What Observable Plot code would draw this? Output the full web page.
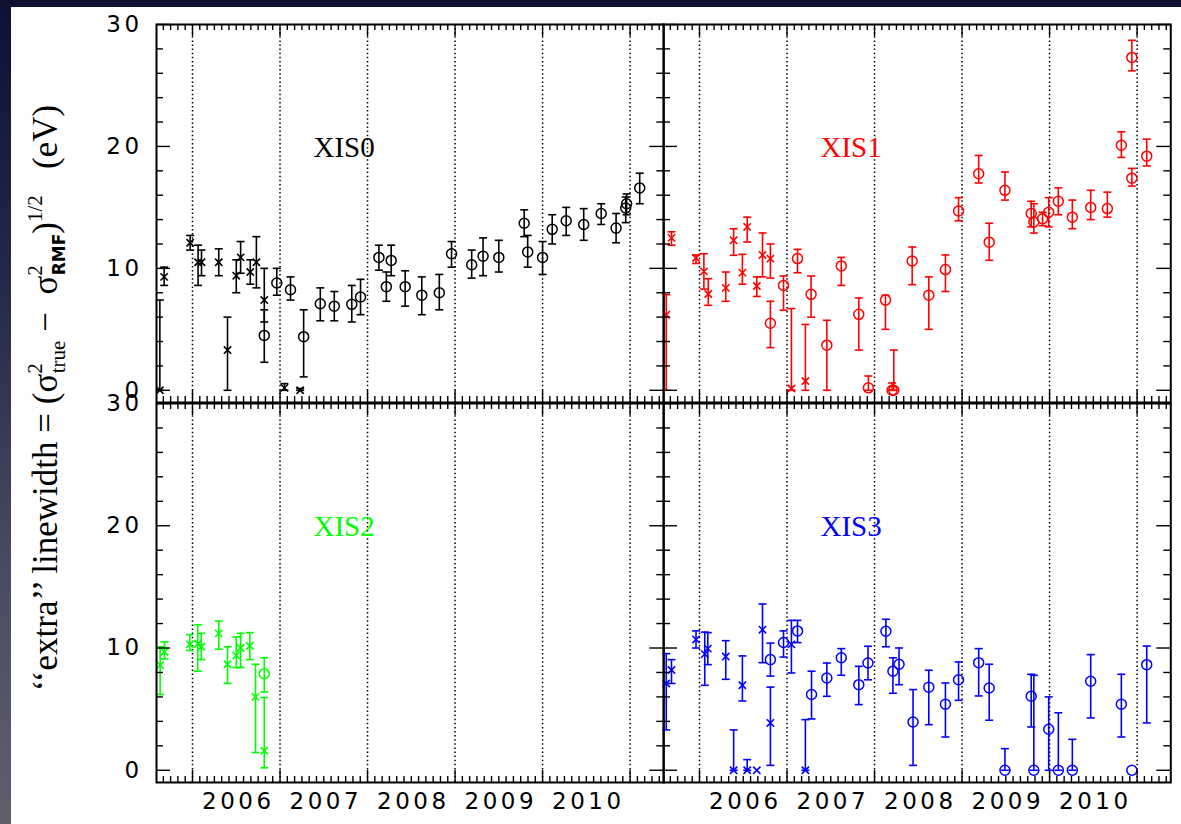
<!DOCTYPE html>
<html><head><meta charset="utf-8">
<script src="https://cdn.jsdelivr.net/npm/d3@7"></script>
<script src="https://cdn.jsdelivr.net/npm/@observablehq/plot@0.6"></script>
<style>
html,body{margin:0;padding:0;}
body{width:1181px;height:824px;overflow:hidden;position:relative;background:linear-gradient(180deg,#0d1132 0%,#252a4a 35%,#4a4c62 70%,#605f6e 100%);}
#sheet{position:absolute;left:11px;top:7px;right:0;bottom:0;background:#fff;}
#chart{position:absolute;left:0;top:0;width:1181px;height:824px;}
#chart svg{position:absolute;}
#ylab{position:absolute;left:0;top:0;overflow:visible;}
</style></head>
<body><div id="sheet"></div>
<svg id="ylab" width="100" height="824">
<text transform="translate(57,398) rotate(-90)" text-anchor="middle" font-family="Liberation Serif" font-size="35" fill="#000"><tspan>‘‘extra’’ linewidth = (σ</tspan><tspan font-size="21" dy="-15">2</tspan><tspan font-size="21" dx="-10" dy="23">true</tspan><tspan dy="-8">&#160;−&#160; σ</tspan><tspan font-size="21" dy="-15">2</tspan><tspan font-size="17" font-family="DejaVu Sans" font-weight="bold" dx="-10" dy="23">RMF</tspan><tspan dy="-8">)</tspan><tspan font-size="21" dy="-15">1/2</tspan><tspan dy="15">&#160;&#160;&#160;(eV)</tspan></text>
</svg>
<div id="chart"></div>
<script>
// ---- data: [time (yr), value (eV), lower, upper, marker] ----
const yearTicks = [2006, 2007, 2008, 2009, 2010, 2011];
const yearLabels = ["2006", "2007", "2008", "2009", "2010"];
const yTickLabels = [0, 10, 20, 30];

const XIS0 = [
  [2005.627, 0, 0, 7.4, "x"],
  [2005.676, 9.3, 8.6, 10.1, "x"],
  [2005.973, 12.1, 11.5, 12.7, "x"],
  [2006.064, 10.5, 8.6, 11.9, "x"],
  [2006.103, 10.5, 9.4, 11.5, "x"],
  [2006.30, 10.5, 9.4, 11.6, "x"],
  [2006.40, 3.3, 0, 6.0, "x"],
  [2006.50, 9.4, 8.0, 10.7, "x"],
  [2006.55, 10.9, 9.6, 12.2, "x"],
  [2006.66, 9.7, 8.7, 10.7, "x"],
  [2006.73, 10.5, 8.4, 12.6, "x"],
  [2006.82, 7.4, 5.6, 10.0, "x"],
  [2006.82, 4.5, 2.3, 6.6, "o"],
  [2006.963, 8.8, 7.8, 10.0, "o"],
  [2007.05, 0.2, 0, 0.55, "x"],
  [2007.12, 8.25, 7.4, 9.3, "o"],
  [2007.23, 0, 0, 0.15, "x"],
  [2007.27, 4.4, 1.1, 6.6, "o"],
  [2007.46, 7.1, 5.7, 8.4, "o"],
  [2007.62, 6.9, 5.7, 8.1, "o"],
  [2007.82, 7.05, 5.6, 8.6, "o"],
  [2007.92, 7.65, 6.2, 9.1, "o"],
  [2008.13, 10.9, 9.85, 11.9, "o"],
  [2008.215, 8.5, 7.3, 9.7, "o"],
  [2008.27, 10.65, 9.4, 11.9, "o"],
  [2008.43, 8.5, 6.9, 9.8, "o"],
  [2008.62, 7.8, 6.2, 9.3, "o"],
  [2008.82, 8.0, 6.6, 9.5, "o"],
  [2008.96, 11.2, 10.1, 12.2, "o"],
  [2009.19, 10.3, 9.2, 11.5, "o"],
  [2009.32, 11.0, 9.4, 12.5, "o"],
  [2009.50, 10.9, 9.7, 12.3, "o"],
  [2009.79, 13.7, 12.6, 14.8, "o"],
  [2009.83, 11.35, 10.1, 12.7, "o"],
  [2010.0, 10.9, 9.5, 12.2, "o"],
  [2010.11, 13.2, 12.0, 14.4, "o"],
  [2010.27, 13.9, 12.7, 15.0, "o"],
  [2010.47, 13.6, 12.3, 14.9, "o"],
  [2010.67, 14.5, 13.6, 15.3, "o"],
  [2010.84, 13.3, 12.1, 14.5, "o"],
  [2010.95, 14.95, 13.75, 15.85, "o"],
  [2010.96, 15.3, 14.4, 16.1, "o"],
  [2011.11, 16.6, 15.3, 17.8, "o"]
];

const XIS1 = [
  [2005.62, 6.2, 0, 7.84, "x"],
  [2005.68, 12.5, 11.9, 13.0, "x"],
  [2005.96, 10.85, 10.4, 11.1, "x"],
  [2006.05, 9.75, 8.3, 11.2, "x"],
  [2006.10, 7.9, 6.97, 9.15, "x"],
  [2006.30, 8.4, 7.3, 9.7, "x"],
  [2006.39, 12.3, 11.07, 13.25, "x"],
  [2006.49, 9.65, 8.7, 11.15, "x"],
  [2006.545, 13.4, 12.16, 14.2, "x"],
  [2006.655, 8.55, 7.7, 9.3, "x"],
  [2006.72, 11.1, 9.3, 12.9, "x"],
  [2006.81, 10.8, 9.2, 12.0, "x"],
  [2006.81, 5.5, 3.5, 7.3, "o"],
  [2006.96, 8.6, 6.56, 9.37, "o"],
  [2007.05, 0.15, 0, 6.7, "x"],
  [2007.12, 10.8, 9.64, 11.56, "o"],
  [2007.21, 0.76, 0, 5.4, "x"],
  [2007.275, 7.87, 6.0, 9.37, "o"],
  [2007.455, 3.7, 0, 5.74, "o"],
  [2007.62, 10.2, 8.6, 10.9, "o"],
  [2007.82, 6.23, 3.3, 7.57, "o"],
  [2007.93, 0.2, 0, 1.17, "o"],
  [2008.125, 7.4, 5.0, 7.8, "o"],
  [2008.20, 0, 0, 0.6, "o"],
  [2008.22, 0, 0, 3.3, "o"],
  [2008.43, 10.6, 8.66, 11.75, "o"],
  [2008.62, 7.8, 5.0, 9.3, "o"],
  [2008.81, 9.9, 8.1, 11.1, "o"],
  [2008.96, 14.7, 13.9, 15.8, "o"],
  [2009.19, 17.76, 17.0, 19.26, "o"],
  [2009.31, 12.15, 10.66, 13.7, "o"],
  [2009.49, 16.4, 15.6, 17.9, "o"],
  [2009.79, 14.5, 13.4, 15.5, "o"],
  [2009.82, 13.8, 12.9, 15.3, "o"],
  [2009.92, 14.07, 13.5, 14.6, "o"],
  [2009.99, 14.6, 13.4, 15.8, "o"],
  [2010.10, 15.5, 14.4, 16.6, "o"],
  [2010.26, 14.2, 13.25, 15.6, "o"],
  [2010.47, 15.0, 14.0, 16.4, "o"],
  [2010.66, 14.9, 14.2, 16.25, "o"],
  [2010.82, 20.1, 19.1, 21.2, "o"],
  [2010.94, 27.3, 26.2, 28.7, "o"],
  [2010.94, 17.4, 16.75, 18.2, "o"],
  [2011.11, 19.2, 18.4, 20.6, "o"]
];

const XIS2 = [
  [2005.63, 8.6, 6.2, 10.1, "x"],
  [2005.68, 9.7, 9.1, 10.5, "x"],
  [2005.97, 10.3, 9.8, 11.1, "x"],
  [2006.06, 10.35, 8.1, 11.9, "x"],
  [2006.10, 10.1, 9.05, 11.2, "x"],
  [2006.30, 11.2, 9.9, 12.2, "x"],
  [2006.40, 8.67, 7.1, 10.1, "x"],
  [2006.50, 9.4, 8.4, 10.9, "x"],
  [2006.55, 10.0, 8.4, 11.2, "x"],
  [2006.655, 10.17, 9.05, 11.26, "x"],
  [2006.72, 6.0, 1.45, 8.67, "x"],
  [2006.82, 7.9, 6.4, 9.2, "o"],
  [2006.82, 1.6, 0.2, 5.95, "x"]
];

const XIS3 = [
  [2005.62, 7.1, 3.3, 9.54, "x"],
  [2005.68, 8.2, 7.1, 9.05, "x"],
  [2005.96, 10.7, 10.0, 11.4, "x"],
  [2006.06, 9.5, 6.95, 11.3, "x"],
  [2006.095, 9.95, 8.64, 11.26, "x"],
  [2006.30, 9.3, 7.44, 10.6, "x"],
  [2006.39, 0, 0, 3.3, "x"],
  [2006.49, 6.95, 5.67, 9.35, "x"],
  [2006.545, 0, 0, 0.87, "x"],
  [2006.655, 0, 0, 0, "x"],
  [2006.72, 11.5, 8.8, 13.6, "x"],
  [2006.81, 9.05, 7.7, 10.4, "o"],
  [2006.81, 3.87, 0.4, 6.8, "x"],
  [2006.96, 10.45, 9.26, 11.4, "o"],
  [2007.05, 10.3, 7.96, 12.26, "x"],
  [2007.12, 11.4, 10.44, 12.26, "o"],
  [2007.21, 0, 0, 4.14, "x"],
  [2007.28, 6.2, 4.2, 8.1, "o"],
  [2007.455, 7.55, 6.05, 8.77, "o"],
  [2007.62, 9.2, 7.77, 9.95, "o"],
  [2007.82, 7.0, 5.37, 8.5, "o"],
  [2007.925, 8.77, 7.4, 10.14, "o"],
  [2008.13, 11.37, 10.1, 12.35, "o"],
  [2008.21, 8.1, 6.3, 9.2, "o"],
  [2008.28, 8.67, 7.0, 10.0, "o"],
  [2008.44, 3.95, 0.4, 6.6, "o"],
  [2008.62, 6.8, 3.73, 8.18, "o"],
  [2008.81, 5.4, 2.72, 7.14, "o"],
  [2008.96, 7.4, 5.72, 8.86, "o"],
  [2009.19, 8.8, 6.08, 9.95, "o"],
  [2009.31, 6.73, 4.09, 8.67, "o"],
  [2009.49, 0, 0, 1.77, "o"],
  [2009.79, 6.05, 3.54, 7.85, "o"],
  [2009.82, 0, 0, 7.77, "o"],
  [2009.99, 3.35, 0, 6.0, "o"],
  [2010.10, 0, 0, 4.7, "o"],
  [2010.26, 0, 0, 2.53, "o"],
  [2010.47, 7.28, 4.28, 9.46, "o"],
  [2010.82, 5.4, 2.72, 7.85, "o"],
  [2010.94, 0, 0, 0, "o"],
  [2011.11, 8.64, 3.87, 10.16, "o"]
];

// ---- layout ----
const xDomain = [2005.5887, 2011.385];
const yDomain = [-1, 30];
const PW = 507.3;
const panels = [
  {name: "XIS0", rows: XIS0, color: "#000000", col: 0, row: 0, left: 155.7, top: 24, h: 378},
  {name: "XIS1", rows: XIS1, color: "#ff0000", col: 1, row: 0, left: 663, top: 24, h: 378},
  {name: "XIS2", rows: XIS2, color: "#00ff00", col: 0, row: 1, left: 155.7, top: 403, h: 379},
  {name: "XIS3", rows: XIS3, color: "#0000ff", col: 1, row: 1, left: 663, top: 403, h: 379}
];

const months = d3.range(2005 * 12 + 8, 2011 * 12 + 5).map(m => m / 12).filter(v => Math.abs(v - Math.round(v)) > 1e-6);
const yMinor = d3.range(2, 30, 2).filter(v => v % 10 !== 0);
const yMajor = [0, 10, 20, 30];
const capSymbol = {draw(ctx) { ctx.moveTo(-4, 0); ctx.lineTo(4, 0); }};

const chart = document.getElementById("chart");
function place(svg, left, top) {
  svg.style.left = left + "px";
  svg.style.top = top + "px";
  svg.style.maxWidth = "none";
  chart.appendChild(svg);
}

for (const p of panels) {
  const ML = p.col === 0 ? 70 : 0, MR = p.col === 0 ? 0 : 12;
  const MT = p.row === 0 ? 12 : 0, MB = p.row === 1 ? 42 : 0;
  const dims = {
    width: ML + PW + MR, height: MT + p.h + MB,
    marginLeft: ML, marginRight: MR, marginTop: MT, marginBottom: MB,
    x: {domain: xDomain, label: null, axis: null},
    y: {domain: yDomain, label: null, axis: null},
    style: {background: "transparent", overflow: "visible", fontFamily: "DejaVu Sans", fontSize: "23px", color: "black"}
  };
  const data = p.rows.map(([t, v, lo, hi, s]) => ({t, v, lo, hi, s}));
  const bars = data.filter(d => d.hi > d.lo);

  // layer 1: data, dotted year lines, labels
  const marks = [
    Plot.ruleX(yearTicks, {x: d => d, stroke: "black", strokeWidth: 1.5, strokeDasharray: "1.5,2.6"}),
    Plot.ruleX(bars, {x: "t", y1: "lo", y2: "hi", stroke: p.color, strokeWidth: 1.6}),
    Plot.dot(bars, {x: "t", y: "lo", symbol: capSymbol, r: 4, stroke: p.color, strokeWidth: 1.6}),
    Plot.dot(bars, {x: "t", y: "hi", symbol: capSymbol, r: 4, stroke: p.color, strokeWidth: 1.6}),
    Plot.dot(data.filter(d => d.s === "o"), {x: "t", y: "v", symbol: "circle", r: 5, fill: "none", stroke: p.color, strokeWidth: 1.5}),
    Plot.dot(data.filter(d => d.s === "x"), {x: "t", y: "v", symbol: "times", r: 3.4, stroke: p.color, strokeWidth: 1.6}),
    Plot.text([p.name], {frameAnchor: "top-left", dx: 157, dy: 133, text: d => d, fill: p.color,
      fontFamily: "Liberation Serif", fontSize: 29, textAnchor: "start", lineAnchor: "bottom"})
  ];
  if (p.col === 0) {
    marks.push(Plot.axisY(yTickLabels, {anchor: "left", tickSize: 0, tickPadding: 14, label: null, fill: "black"}));
  }
  if (p.row === 1) {
    marks.push(Plot.axisX(yearLabels.map(Number).map(y => y + 0.5), {anchor: "bottom", tickSize: 0, tickPadding: 10,
      tickFormat: d => yearLabels[Math.floor(d) - 2006], label: null, dx: 2, fill: "black"}));
  }
  const svg = Plot.plot({...dims, marks});
  svg.querySelectorAll('[aria-label="x-axis tick label"], [aria-label="y-axis tick label"]').forEach(g => g.setAttribute("letter-spacing", "3.5"));
  place(svg, p.left - ML, p.top - MT);

  // layer 2: frame and inward tick marks (pixel lengths converted to scale units)
  const uy = (yDomain[1] - yDomain[0]) / p.h;
  const ux = (xDomain[1] - xDomain[0]) / PW;
  const [x0, x1] = xDomain, [y0, y1] = yDomain;
  const tk = {stroke: "black", strokeWidth: 1.4};
  const frameSvg = Plot.plot({...dims, marks: [
    Plot.ruleX(months, {x: d => d, y1: y0, y2: y0 + 6 * uy, ...tk}),
    Plot.ruleX(months, {x: d => d, y1: y1, y2: y1 - 6 * uy, ...tk}),
    Plot.ruleX(yearTicks, {x: d => d, y1: y0, y2: y0 + 12 * uy, ...tk}),
    Plot.ruleX(yearTicks, {x: d => d, y1: y1, y2: y1 - 12 * uy, ...tk}),
    Plot.ruleY(yMinor, {y: d => d, x1: x0, x2: x0 + 7 * ux, ...tk}),
    Plot.ruleY(yMinor, {y: d => d, x1: x1, x2: x1 - 7 * ux, ...tk}),
    Plot.ruleY(yMajor, {y: d => d, x1: x0, x2: x0 + 14 * ux, ...tk}),
    Plot.ruleY(yMajor, {y: d => d, x1: x1, x2: x1 - 14 * ux, ...tk}),
    Plot.frame({stroke: "black", strokeWidth: 2})
  ]});
  place(frameSvg, p.left - ML, p.top - MT);
}
</script>
</body></html>
